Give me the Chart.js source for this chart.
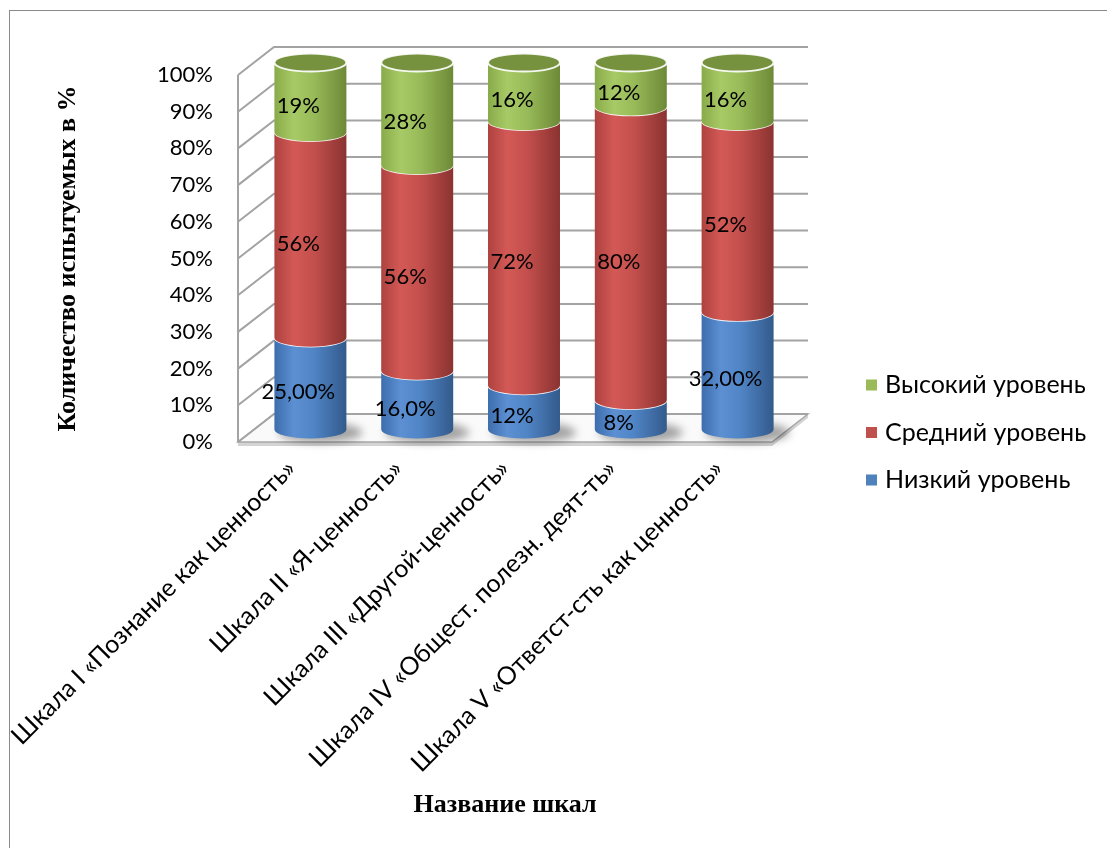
<!DOCTYPE html>
<html><head><meta charset="utf-8">
<script src="https://cdn.jsdelivr.net/npm/chart.js@4.4.1/dist/chart.umd.min.js"></script>
<style>
html,body{margin:0;padding:0;background:#fff;overflow:hidden;width:1107px;height:848px;}
#frame{position:absolute;left:9px;top:10px;width:1200px;height:1000px;border:1px solid #8a8a8a;}
#wrap{position:absolute;left:0;top:0;width:1107px;height:848px;}
</style></head><body>
<div id="frame"></div>
<div id="wrap"><canvas id="c" width="1107" height="848"></canvas></div>
<script>
// ---- data ----
const categories = [
  'Шкала I «Познание как ценность»',
  'Шкала II «Я-ценность»',
  'Шкала III «Другой-ценность»',
  'Шкала IV «Общест. полезн. деят-ть»',
  'Шкала V «Ответст-сть как ценность»'
];
const seriesNames = ['Низкий уровень', 'Средний уровень', 'Высокий уровень'];
const lowValues  = [25, 16, 12, 8, 32];
const midValues  = [56, 56, 72, 80, 52];
const highValues = [19, 28, 16, 12, 16];
const lowLabels  = ['25,00%', '16,0%', '12%', '8%', '32,00%'];
const midLabels  = ['56%', '56%', '72%', '80%', '52%'];
const highLabels = ['19%', '28%', '16%', '12%', '16%'];
const yTickStep = 10;
const yMin = 0, yMax = 100;
const yAxisTitle = 'Количество испытуемых в %';
const xAxisTitle = 'Название шкал';

// ---- styling ----
const FONT = "Lato, 'Noto Sans', sans-serif";
const SERIF = "'Liberation Serif', 'DejaVu Serif', serif";
const DX = 36, DY = -28;      // depth of 3D walls
const CX = 19, CY = -12.5;    // cylinder plane offset
const RY = 9;                 // ellipse half-height
const palette = [
  {base:'#4f81bd', stops:[[0,'#3d6dac'],[0.27,'#5c90d3'],[0.55,'#4f84c5'],[1,'#335a8b']], cap:'#3f6ca6'},
  {base:'#c0504d', stops:[[0,'#ae423f'],[0.27,'#d35956'],[0.55,'#c34f4c'],[1,'#8a3331']], cap:'#9c3e3b'},
  {base:'#9bbb59', stops:[[0,'#89aa49'],[0.27,'#a7ca66'],[0.55,'#98ba58'],[1,'#6d8937']], cap:'#77923f'}
];
const valueLabels = [lowLabels, midLabels, highLabels];

const threeD = {
  id: 'threeD',
  beforeDatasetsDraw(chart) {
    const {ctx, chartArea: {left, right, top, bottom}, scales: {y}} = chart;
    ctx.save();
    // floor slab
    ctx.fillStyle = '#d4d4d4';
    ctx.beginPath();
    ctx.moveTo(left, bottom); ctx.lineTo(right, bottom); ctx.lineTo(right + DX, bottom + DY);
    ctx.lineTo(right + DX, bottom + DY + 4); ctx.lineTo(right, bottom + 4); ctx.lineTo(left, bottom + 4);
    ctx.closePath(); ctx.fill();
    // floor top
    ctx.beginPath();
    ctx.moveTo(left, bottom); ctx.lineTo(right, bottom); ctx.lineTo(right + DX, bottom + DY); ctx.lineTo(left + DX, bottom + DY);
    ctx.closePath();
    ctx.fillStyle = '#fafafa'; ctx.fill();
    ctx.strokeStyle = '#a8a8a8'; ctx.lineWidth = 1.5; ctx.stroke();
    // grid lines on side & back walls
    ctx.strokeStyle = '#a3a3a3'; ctx.lineWidth = 2;
    y.ticks.forEach(t => {
      const yy = y.getPixelForValue(t.value);
      ctx.beginPath();
      ctx.moveTo(left, yy); ctx.lineTo(left + DX, yy + DY);
      ctx.lineTo(right + DX, yy + DY);
      ctx.stroke();
    });
    ctx.beginPath(); ctx.moveTo(left, top); ctx.lineTo(left, bottom); ctx.stroke();
    ctx.restore();
  },
  beforeDatasetDraw() { return false; },
  afterDatasetsDraw(chart) {
    const {ctx} = chart;
    const metas = chart.data.datasets.map((d, i) => chart.getDatasetMeta(i));
    ctx.save();
    categories.forEach((c, j) => {
      const b0 = metas[0].data[j];
      const cx = b0.x + CX, rx = b0.width / 2, yBase = b0.base + CY;
      // shadow
      ctx.save();
      ctx.filter = 'blur(4px)';
      ctx.fillStyle = 'rgba(0,0,0,0.35)';
      ctx.beginPath(); ctx.ellipse(cx + 10, yBase + 3, rx + 6, RY + 1, 0, 0, Math.PI * 2); ctx.fill();
      ctx.restore();
      metas.forEach((m, i) => {
        const bar = m.data[j];
        const yT = bar.y + CY, yB = bar.base + CY;
        const p = palette[i];
        const g = ctx.createLinearGradient(cx - rx, 0, cx + rx, 0);
        p.stops.forEach(s => g.addColorStop(s[0], s[1]));
        ctx.beginPath();
        ctx.moveTo(cx - rx, yT);
        ctx.lineTo(cx - rx, yB);
        ctx.ellipse(cx, yB, rx, RY, 0, Math.PI, 0, true);
        ctx.lineTo(cx + rx, yT);
        ctx.ellipse(cx, yT, rx, RY, 0, 0, Math.PI, false);
        ctx.closePath();
        ctx.fillStyle = g; ctx.fill();
        ctx.strokeStyle = 'rgba(255,255,255,0.9)'; ctx.lineWidth = 1.5;
        if (i < metas.length - 1) {
          ctx.beginPath(); ctx.ellipse(cx, yT, rx, RY, 0, 0, Math.PI, false); ctx.stroke();
        } else {
          ctx.beginPath(); ctx.ellipse(cx, yT, rx, RY, 0, 0, Math.PI * 2);
          ctx.fillStyle = p.cap; ctx.fill(); ctx.lineWidth = 2; ctx.stroke();
        }
      });
    });
    // value labels
    ctx.fillStyle = '#000';
    ctx.font = '22px ' + FONT;
    ctx.textAlign = 'center'; ctx.textBaseline = 'middle';
    metas.forEach((m, i) => {
      m.data.forEach((bar, j) => {
        ctx.fillText(valueLabels[i][j], bar.x + 7, (bar.y + bar.base) / 2 - 4);
      });
    });
    ctx.restore();
  },
  afterDraw(chart) {
    const {ctx, chartArea: {right}} = chart;
    ctx.save();
    ctx.font = '25px ' + FONT;
    ctx.textAlign = 'left'; ctx.textBaseline = 'middle';
    const items = chart.data.datasets.map((d, i) => ({label: d.label, color: d.backgroundColor})).reverse();
    const lx = right + 94, ly = 385, gap = 47.5;
    items.forEach((it, k) => {
      const yy = ly + k * gap;
      ctx.fillStyle = it.color;
      ctx.fillRect(lx, yy - 5.5, 11, 11);
      ctx.fillStyle = '#000';
      ctx.fillText(it.label, lx + 19, yy);
    });
    ctx.restore();
  }
};

new Chart(document.getElementById('c'), {
  type: 'bar',
  data: {
    labels: categories,
    datasets: [
      {label: seriesNames[0], data: lowValues,  backgroundColor: palette[0].base},
      {label: seriesNames[1], data: midValues,  backgroundColor: palette[1].base},
      {label: seriesNames[2], data: highValues, backgroundColor: palette[2].base}
    ]
  },
  options: {
    responsive: false,
    animation: false,
    layout: {padding: {top: 75, right: 335, bottom: 0, left: 0}},
    datasets: {bar: {categoryPercentage: 1, barPercentage: 0.674}},
    plugins: {legend: {display: false}, tooltip: {enabled: false}},
    scales: {
      x: {
        stacked: true,
        grid: {display: false, drawTicks: false},
        border: {display: false},
        ticks: {autoSkip: false, minRotation: 45, maxRotation: 45, padding: 12, color: '#000', font: {family: FONT, size: 25}},
        title: {display: true, text: xAxisTitle, color: '#000', font: {family: SERIF, size: 26, weight: 'bold'}, padding: {top: 0, bottom: 27}},
        afterFit(s) { s.height = 406; s.paddingLeft = 0; s.paddingRight = 0; }
      },
      y: {
        stacked: true,
        min: yMin, max: yMax,
        grid: {display: false, drawTicks: false},
        border: {display: false},
        ticks: {stepSize: yTickStep, padding: 25, color: '#000', font: {family: FONT, size: 22}, callback: v => v + '%'},
        title: {display: true, text: yAxisTitle, color: '#000', font: {family: SERIF, size: 26, weight: 'bold'}, padding: {top: 53, bottom: 0}},
        afterFit(s) { s.width = 238; s.paddingTop = 0; s.paddingBottom = 0; }
      }
    }
  },
  plugins: [threeD]
});
</script>
</body></html>
